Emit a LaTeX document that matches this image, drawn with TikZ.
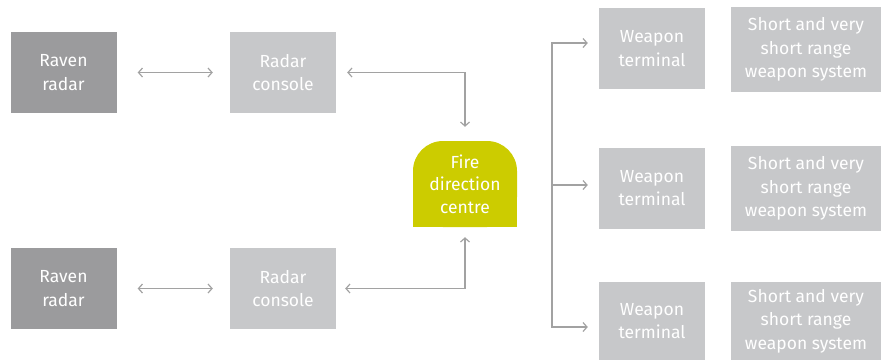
\documentclass[tikz,border=0pt]{standalone}
\usepackage{fontspec}
\setmainfont{Fira Sans}
\usetikzlibrary{arrows.meta}
\definecolor{radargray}{HTML}{9B9B9D}
\definecolor{boxgray}{HTML}{C7C8CA}
\definecolor{fdcgreen}{HTML}{CCCC00}
\definecolor{linegray}{HTML}{A2A2A2}

\begin{document}
\begin{tikzpicture}[x=1pt,y=-1pt,
  box/.style={rectangle,fill=boxgray,text=white,align=center,inner sep=0pt,
    minimum width=106pt,minimum height=81pt,font=\fontsize{17.5}{23.5}\selectfont},
  radar/.style={box,fill=radargray},
  wide/.style={box,minimum width=150pt,minimum height=85pt},
  link/.style={draw=linegray,line width=1.2pt,-{Straight Barb[length=4pt,width=9pt]}},
  twoway/.style={link,{Straight Barb[length=4pt,width=9pt]}-{Straight Barb[length=4pt,width=9pt]}}]
\useasboundingbox (0,0) rectangle (886,360);

% radars and consoles
\node[radar] (rr1) at (63.5,72.5) {Raven\\radar};
\node[box] (rc1) at (283,72.5) {Radar\\console};
\node[radar] (rr2) at (63.5,288.5) {Raven\\radar};
\node[box] (rc2) at (283,288.5) {Radar\\console};

% fire direction centre
\node[box,fill=none,minimum width=104pt,minimum height=86pt,
  font=\fontsize{17.5}{22.5}\selectfont,
  path picture={
    \fill[fdcgreen,rounded corners=30pt] (path picture bounding box.south west) rectangle (path picture bounding box.north east);
    \fill[fdcgreen] (path picture bounding box.south west) rectangle (path picture bounding box.east);
  }] (fdc) at (465,184) {Fire\\direction\\centre};

% weapons
\node[box] (wt1) at (652,48.5) {Weapon\\terminal};
\node[wide] (sv1) at (806,49.5) {Short and very\\short range\\weapon system};
\node[box] (wt2) at (652,188) {Weapon\\terminal};
\node[wide] (sv2) at (806,188.5) {Short and very\\short range\\weapon system};
\node[box,minimum height=78pt] (wt3) at (652,321) {Weapon\\terminal};
\node[wide,minimum height=78pt] (sv3) at (806,321) {Short and very\\short range\\weapon system};

\draw[twoway,shorten <=21pt,shorten >=17pt] (rr1) -- (rc1);
\draw[twoway,shorten <=21pt,shorten >=17pt] (rr2) -- (rc2);
\draw[twoway,shorten <=11pt,shorten >=14pt] (rc1.east) -| (fdc.north);
\draw[twoway,shorten <=9pt,shorten >=10pt] (rc2.east) -| (fdc.south);

% bus to the weapon terminals
\coordinate (bt) at (552,43);
\coordinate (bm) at (552,185);
\coordinate (bb) at (552,327);
\draw[link,shorten >=11pt] (bb) -- (bt) -- (bt -| wt1.west);
\draw[link,shorten >=11pt] (bm) -- (bm -| wt2.west);
\draw[link,shorten >=11pt] (bt) -- (bb) -- (bb -| wt3.west);
\end{tikzpicture}
\end{document}
